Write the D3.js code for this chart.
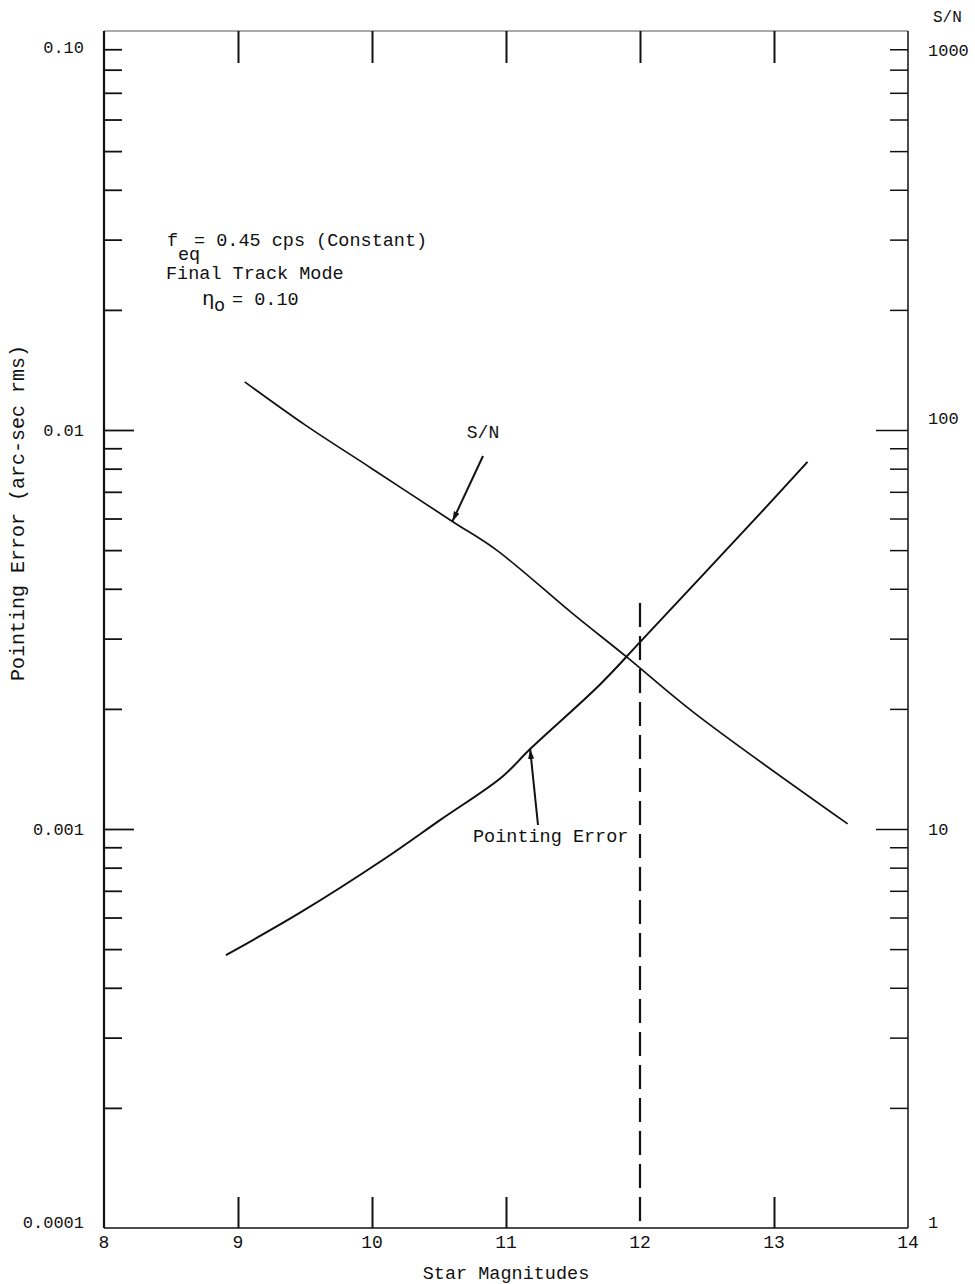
<!DOCTYPE html>
<html>
<head>
<meta charset="utf-8">
<script src="https://cdn.jsdelivr.net/npm/d3@7"></script>
<style>
  body { margin: 0; background: #fff; }
  svg text { font-family: "Liberation Mono", "Courier New", monospace; fill: #111; }
</style>
</head>
<body>
<svg width="975" height="1284"></svg>
<script>
// star magnitudes where the curves were read
const snMag = [9.05, 9.5, 10.0, 10.6, 10.93, 11.5, 11.9, 12.4, 13.55];
const snValues = [132, 103, 80, 59, 50, 34.6, 27, 19.6, 10.3];

const peMag = [8.91, 9.46, 10.08, 10.51, 10.97, 11.18, 11.7, 12.0, 12.92, 13.25];
const peValues = [4.83e-4, 6.16e-4, 8.36e-4, 1.054e-3, 1.35e-3, 1.587e-3, 2.3e-3, 2.94e-3, 6.3e-3, 8.32e-3];

const xTicks = [8, 9, 10, 11, 12, 13, 14];
const leftLabels = [0.1, 0.01, 0.001, 0.0001];
const leftLabelText = ["0.10", "0.01", "0.001", "0.0001"];
const rightLabels = [1000, 100, 10, 1];
const limitMag = 12;

const svg = d3.select("svg");
const x = d3.scaleLinear().domain([8, 14]).range([104, 908]);
const yL = d3.scaleLog().domain([1e-4, 0.1]).range([1228, 31]);
const yR = d3.scaleLog().domain([1, 1000]).range([1228, 31]);

// minor log ticks (2..9 of each decade)
function minorTicks(lo, hi) {
    const out = [];
    for (let d = lo; d < hi; d *= 10) {
        for (let k = 2; k <= 9; k++) out.push(d * k);
    }
    return out;
}

const frame = svg.append("g").attr("stroke", "#111").attr("fill", "none");
// frame: top faint, others solid
frame.append("line").attr("x1", x(8)).attr("x2", x(14)).attr("y1", yL(0.1)).attr("y2", yL(0.1))
    .attr("stroke-width", 1).attr("stroke", "#555");
frame.append("line").attr("x1", x(8)).attr("x2", x(14)).attr("y1", yL(1e-4)).attr("y2", yL(1e-4))
    .attr("stroke-width", 1.5);
frame.append("line").attr("x1", x(8)).attr("x2", x(8)).attr("y1", yL(0.1)).attr("y2", yL(1e-4))
    .attr("stroke-width", 2.2);
frame.append("line").attr("x1", x(14)).attr("x2", x(14)).attr("y1", yL(0.1)).attr("y2", yL(1e-4))
    .attr("stroke-width", 1.5);

// left ticks (inward)
const leftAxis = svg.append("g").attr("transform", `translate(${x(8)},0)`);
leftAxis.call(d3.axisLeft(yL).tickValues(minorTicks(1e-4, 0.1)).tickSizeInner(-18).tickSizeOuter(0).tickFormat(""));
leftAxis.append("g").call(d3.axisLeft(yL).tickValues([0.01, 0.001]).tickSizeInner(-30).tickSizeOuter(0).tickFormat(""));
leftAxis.selectAll(".domain").remove();
leftAxis.selectAll("line").attr("stroke", "#111").attr("stroke-width", 1.8);

// right ticks (inward)
const rightAxis = svg.append("g").attr("transform", `translate(${x(14)},0)`);
rightAxis.call(d3.axisRight(yR).tickValues(minorTicks(1, 1000)).tickSizeInner(-18).tickSizeOuter(0).tickFormat(""));
rightAxis.append("g").call(d3.axisRight(yR).tickValues([100, 10]).tickSizeInner(-32).tickSizeOuter(0).tickFormat(""));
rightAxis.selectAll(".domain").remove();
rightAxis.selectAll("line").attr("stroke", "#111").attr("stroke-width", 1.5);

// top and bottom ticks
const inner = xTicks.slice(1, -1);
svg.append("g").attr("transform", `translate(0,${yL(0.1)})`)
    .call(d3.axisTop(x).tickValues(inner).tickSizeInner(-32).tickSizeOuter(0).tickFormat(""))
    .call(g => g.select(".domain").remove())
    .selectAll("line").attr("stroke", "#111").attr("stroke-width", 2);
svg.append("g").attr("transform", `translate(0,${yL(1e-4)})`)
    .call(d3.axisBottom(x).tickValues(inner.filter(d => d !== limitMag)).tickSizeInner(-31).tickSizeOuter(0).tickFormat(""))
    .call(g => g.select(".domain").remove())
    .selectAll("line").attr("stroke", "#111").attr("stroke-width", 2);

// x tick labels
svg.append("g").selectAll("text").data(xTicks).join("text")
    .attr("x", d => x(d)).attr("y", yL(1e-4) + 20)
    .attr("text-anchor", "middle").attr("font-size", 18)
    .text(d => d);

// left labels
svg.append("g").selectAll("text").data(leftLabels).join("text")
    .attr("x", 84)
    .attr("y", (d, i) => yL(d) + (i === 0 ? 22 : i === 3 ? 0 : 6))
    .attr("text-anchor", "end").attr("font-size", 17)
    .text((d, i) => leftLabelText[i]);

// right labels
svg.append("g").selectAll("text").data(rightLabels).join("text")
    .attr("x", 928)
    .attr("y", (d, i) => yR(d) + (i === 0 ? 25 : i === 1 ? -6 : i === 2 ? 6 : 0))
    .attr("font-size", 17)
    .text(d => d);
svg.append("text").attr("x", 933).attr("y", 22).attr("font-size", 16).text("S/N");

// axis titles
svg.append("text").attr("x", (x(8) + x(14)) / 2).attr("y", 1279)
    .attr("text-anchor", "middle").attr("font-size", 18.5).text("Star Magnitudes");
svg.append("text")
    .attr("transform", "translate(24,513) rotate(-90)")
    .attr("text-anchor", "middle").attr("font-size", 20)
    .text("Pointing Error (arc-sec rms)");

// dashed limit line at magnitude 12
svg.append("line")
    .attr("x1", x(limitMag)).attr("x2", x(limitMag))
    .attr("y1", 603).attr("y2", yL(1e-4))
    .attr("stroke", "#111").attr("stroke-width", 2.2)
    .attr("stroke-dasharray", "24,9");

// curves
const snLine = d3.line().x((d, i) => x(snMag[i])).y(d => yR(d)).curve(d3.curveCatmullRom.alpha(0.5));
const peLine = d3.line().x((d, i) => x(peMag[i])).y(d => yL(d)).curve(d3.curveCatmullRom.alpha(0.5));

svg.append("path").datum(snValues).attr("d", snLine)
    .attr("fill", "none").attr("stroke", "#111").attr("stroke-width", 1.7);
svg.append("path").datum(peValues).attr("d", peLine)
    .attr("fill", "none").attr("stroke", "#111").attr("stroke-width", 2);

// arrows
svg.append("defs").append("marker")
    .attr("id", "arrowhead").attr("viewBox", "0 0 10 10")
    .attr("refX", 10).attr("refY", 5)
    .attr("markerWidth", 5).attr("markerHeight", 5).attr("orient", "auto")
    .append("path").attr("d", "M0,2 L10,5 L0,8 Z").attr("fill", "#111");

const snTip = [x(10.6), yR(59)];
svg.append("line").attr("x1", 483).attr("y1", 456).attr("x2", snTip[0]).attr("y2", snTip[1])
    .attr("stroke", "#111").attr("stroke-width", 2).attr("marker-end", "url(#arrowhead)");
svg.append("text").attr("x", 483).attr("y", 438).attr("text-anchor", "middle")
    .attr("font-size", 18).text("S/N");

const peTip = [x(11.18), yL(1.587e-3)];
svg.append("line").attr("x1", 538).attr("y1", 825).attr("x2", peTip[0]).attr("y2", peTip[1])
    .attr("stroke", "#111").attr("stroke-width", 2).attr("marker-end", "url(#arrowhead)");
svg.append("text").attr("x", 473).attr("y", 842).attr("font-size", 18.5).text("Pointing Error");

// annotation block
const note = svg.append("g").attr("font-size", 18.5);
note.append("text").attr("x", 167).attr("y", 246).text("f");
note.append("text").attr("x", 178).attr("y", 260).text("eq");
note.append("text").attr("x", 194).attr("y", 246).text("= 0.45 cps (Constant)");
note.append("text").attr("x", 166).attr("y", 279).text("Final Track Mode");
note.append("text").attr("x", 202).attr("y", 305).attr("font-size", 21).text("η");
note.append("text").attr("x", 214).attr("y", 311).text("o");
note.append("text").attr("x", 232).attr("y", 305).text("= 0.10");
</script>
</body>
</html>
